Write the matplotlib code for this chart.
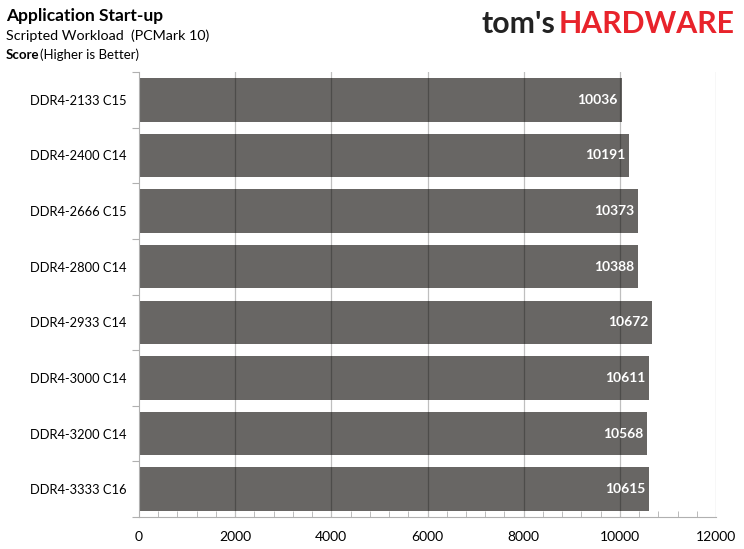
import matplotlib
matplotlib.use("Agg")
import matplotlib.pyplot as plt
from matplotlib.ticker import MultipleLocator
from matplotlib import font_manager

categories = ["DDR4-2133 C15", "DDR4-2400 C14", "DDR4-2666 C15", "DDR4-2800 C14",
              "DDR4-2933 C14", "DDR4-3000 C14", "DDR4-3200 C14", "DDR4-3333 C16"]
values = [10036, 10191, 10373, 10388, 10672, 10611, 10568, 10615]
xticks = [0, 2000, 4000, 6000, 8000, 10000, 12000]

plt.rcParams['font.family'] = ['Lato', 'DejaVu Sans']

names = {f.name for f in font_manager.fontManager.ttflist}
logo_font = 'Liberation Sans Narrow' if 'Liberation Sans Narrow' in names else 'Lato'

fig = plt.figure(figsize=(7.44, 5.49), dpi=100)
W, H = 744, 549
left, right, top, bottom = 139, 716, 72, 517
ax = fig.add_axes([left / W, 1 - bottom / H, (right - left) / W, (bottom - top) / H])

n = len(categories)
ypos = list(range(n))
ax.barh(ypos, values, height=0.78, color="#686664", zorder=2)
ax.set_ylim(n - 0.5, -0.5)
ax.set_xlim(0, 12000)

for y, v in zip(ypos, values):
    ax.text(v - 80, y, f"{v}", ha="right", va="center", color="white",
            fontsize=10, fontweight="bold", zorder=4)

ax.set_xticks(xticks)
ax.set_xticklabels([str(t) for t in xticks], fontsize=10)
ax.xaxis.set_minor_locator(MultipleLocator(400))
ax.tick_params(axis="x", which="major", length=0, pad=10)
ax.tick_params(axis="x", which="minor", direction="in", length=4, color="#b0b0b0")
for t in xticks[1:]:
    ax.axvline(t, color="black", alpha=0.25, lw=0.9, zorder=3)

ax.set_yticks([y - 0.5 for y in ypos] + [n - 0.5])
ax.set_yticklabels([])
ax.set_yticks(ypos, minor=True)
ax.set_yticklabels(categories, minor=True, fontsize=9.3)
ax.tick_params(axis="y", which="major", direction="out", length=5, color="#b0b0b0")
ax.tick_params(axis="y", which="minor", length=0, pad=9)

for s in ["left", "bottom", "right"]:
    ax.spines[s].set_color("#b0b0b0")
ax.spines["top"].set_visible(False)
ax.spines["right"].set_visible(False)

fig.text(6 / W, 1 - 16 / H, "Application Start-up", fontsize=12.5, fontweight="bold",
         va="center", ha="left")
fig.text(6 / W, 1 - 36 / H, "Scripted Workload  (PCMark 10)", fontsize=10.3,
         va="center", ha="left")
t1 = fig.text(6 / W, 1 - 55 / H, "Score", fontsize=9.5, fontweight="bold",
              va="center", ha="left")
fig.canvas.draw()
bb = t1.get_window_extent()
fig.text((bb.x1 + 1) / W, 1 - 55 / H, "(Higher is Better)", fontsize=9.5,
         va="center", ha="left")

# logo, sized to fit between x=482 and x=735
fs = 26
t2 = fig.text(482 / W, 1 - 24 / H, "tom's", fontsize=fs, fontweight="bold",
              family=logo_font, color="#222222", va="center", ha="left")
t3 = fig.text(0, 1 - 24 / H, "HARDWARE", fontsize=fs, fontweight="bold",
              family=logo_font, color="#e8232b", va="center", ha="left")
fig.canvas.draw()
r = fig.canvas.get_renderer()
w2 = t2.get_window_extent(r).width
w3 = t3.get_window_extent(r).width
scale = (735 - 482 - 3) / (w2 + w3)
fs2 = fs * scale
t2.set_fontsize(fs2)
t3.set_fontsize(fs2)
fig.canvas.draw()
bb2 = t2.get_window_extent(r)
t3.set_x((bb2.x1 + 3) / W)

fig.savefig("out.png", dpi=100)
